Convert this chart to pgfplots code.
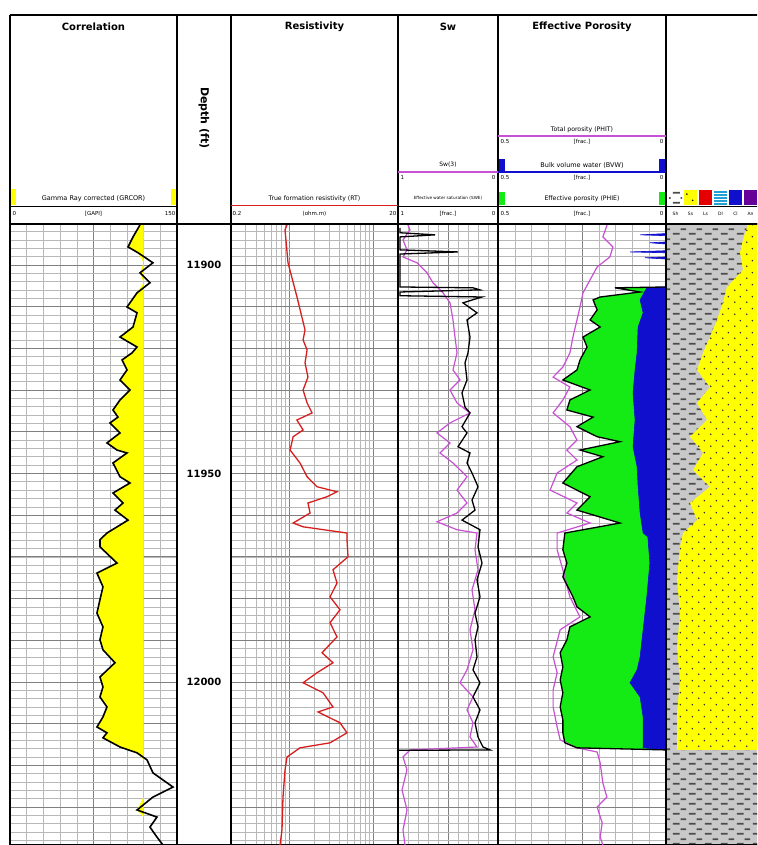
\documentclass[border=0pt]{standalone}
\usepackage{fontspec}
\setmainfont{DejaVu Sans}
\usepackage{pgfplots}
\usepackage{pgfplotstable}
\pgfplotsset{compat=1.18}
\usetikzlibrary{patterns}

\pgfdeclarepatternformonly{shaledash}{\pgfqpoint{0pt}{0pt}}{\pgfqpoint{16pt}{10pt}}{\pgfqpoint{16pt}{10pt}}{%
 \pgfpathrectangle{\pgfqpoint{1pt}{1.5pt}}{\pgfqpoint{7pt}{1.8pt}}%
 \pgfpathrectangle{\pgfqpoint{9pt}{6.5pt}}{\pgfqpoint{6pt}{1.8pt}}%
 \pgfusepath{fill}}
\pgfdeclarepatternformonly{sanddots}{\pgfqpoint{0pt}{0pt}}{\pgfqpoint{12pt}{12pt}}{\pgfqpoint{12pt}{12pt}}{%
 \pgfpathcircle{\pgfqpoint{3pt}{3pt}}{0.9pt}%
 \pgfpathcircle{\pgfqpoint{9pt}{9pt}}{0.9pt}%
 \pgfusepath{fill}}

\definecolor{grfill}{RGB}{255,255,0}
\definecolor{resred}{RGB}{215,30,30}
\definecolor{swmag}{RGB}{200,80,210}
\definecolor{phigreen}{RGB}{20,235,20}
\definecolor{bvwblue}{RGB}{15,15,205}
\definecolor{shalegray}{RGB}{200,200,200}

\pgfplotstableread{
v d
116.8 11890.4
110.5 11893.3
106.0 11895.7
115.0 11897.1
128.4 11899.5
116.8 11901.9
125.7 11904.3
114.1 11906.7
105.1 11910.1
114.1 11911.5
110.5 11914.9
98.8 11917.3
114.1 11919.7
109.6 11921.1
100.6 11922.8
105.1 11925.2
98.8 11927.6
107.8 11930.0
98.8 11932.4
92.5 11934.8
97.0 11936.5
89.8 11937.9
98.8 11940.3
87.1 11942.7
96.1 11944.4
105.1 11945.1
92.5 11947.5
98.8 11950.8
107.8 11952.3
92.5 11954.7
101.5 11957.1
94.3 11958.8
106.0 11961.2
87.1 11964.3
80.8 11965.9
80.8 11967.6
96.1 11971.5
78.1 11973.9
83.5 11977.2
80.8 11980.3
78.1 11983.5
83.5 11986.8
80.8 11989.9
83.5 11992.3
94.3 11995.4
80.8 11998.8
83.5 12001.2
80.8 12003.6
87.1 12006.0
83.5 12008.4
78.1 12010.8
87.1 12012.2
83.5 12013.4
98.8 12015.6
114.1 12017.0
123.1 12018.7
128.4 12021.8
146.4 12025.2
128.4 12027.6
114.1 12030.7
132.0 12032.4
125.7 12034.8
132.0 12037.2
137.4 12039.1
}\grdata

\pgfplotstableread{
v d
0.937 11890.4
0.887 11891.6
0.963 11899.5
1.234 11907.7
1.54 11915.6
1.46 11918.0
1.63 11920.4
1.54 11923.5
1.67 11926.9
1.46 11930.0
1.63 11933.1
1.87 11935.5
1.23 11937.2
1.46 11939.6
1.11 11941.2
1.02 11944.4
1.34 11947.5
1.63 11950.8
2.14 11953.2
3.72 11954.4
2.82 11955.6
1.67 11957.1
1.77 11959.5
1.11 11961.9
1.46 11962.8
4.90 11964.3
4.90 11965.9
5.04 11970.0
3.33 11973.1
3.72 11976.3
3.07 11979.6
4.04 11982.7
3.07 11985.8
3.72 11989.2
2.46 11993.0
3.33 11995.4
2.14 11997.8
1.46 12000.2
2.53 12002.6
3.33 12006.0
2.20 12007.2
4.04 12009.8
4.90 12012.2
3.07 12014.6
1.34 12015.8
0.937 12018.0
0.887 12021.1
0.839 12027.6
0.816 12035.5
0.773 12039.1
}\resdata

\pgfplotstableread{
v d
0.91 11889.9
0.88 11891.6
0.95 11894.0
0.91 11896.4
0.95 11898.1
0.81 11899.5
0.71 11901.9
0.65 11904.3
0.55 11906.7
0.48 11909.1
0.45 11913.2
0.43 11917.3
0.41 11921.1
0.45 11925.2
0.38 11927.6
0.48 11930.0
0.41 11933.1
0.28 11935.5
0.48 11937.9
0.61 11940.3
0.48 11942.7
0.58 11945.1
0.45 11947.5
0.31 11950.8
0.41 11954.0
0.31 11957.1
0.41 11959.5
0.61 11961.6
0.41 11963.5
0.21 11964.3
0.23 11968.3
0.20 11973.1
0.26 11977.9
0.23 11982.7
0.28 11987.5
0.25 11992.3
0.31 11997.1
0.38 12000.2
0.25 12003.6
0.31 12006.7
0.25 12009.8
0.28 12013.2
0.21 12015.6
0.88 12016.3
0.95 12018.0
0.91 12021.1
0.96 12025.9
0.91 12030.7
0.95 12035.5
0.93 12039.1
}\swdata

\pgfplotstableread{
v d
0.98 11891.1
0.98 11892.3
0.63 11892.8
0.98 11893.3
0.98 11896.4
0.40 11896.9
0.98 11897.4
0.98 11905.3
0.25 11905.5
0.18 11906.0
0.98 11906.5
0.98 11907.4
0.16 11907.7
0.35 11909.1
0.21 11911.5
0.31 11913.2
0.28 11917.3
0.30 11921.1
0.33 11923.5
0.31 11927.6
0.36 11930.7
0.33 11934.1
0.28 11935.5
0.36 11938.8
0.31 11940.3
0.40 11943.6
0.28 11945.1
0.31 11947.5
0.26 11949.9
0.20 11953.2
0.26 11956.4
0.23 11958.8
0.36 11961.2
0.18 11963.5
0.20 11967.6
0.16 11971.5
0.21 11975.5
0.18 11979.6
0.23 11983.5
0.20 11986.8
0.23 11989.9
0.21 11994.0
0.25 11997.1
0.18 12000.2
0.25 12003.6
0.18 12006.7
0.23 12009.8
0.20 12013.2
0.15 12015.6
0.08 12016.3
0.99 12016.4
}\swedata

\pgfplotstableread{
v d
0.173 11889.9
0.188 11893.3
0.158 11895.7
0.167 11898.1
0.205 11900.5
0.226 11903.6
0.247 11906.7
0.256 11910.1
0.265 11913.2
0.277 11917.3
0.286 11921.1
0.307 11924.5
0.336 11926.9
0.286 11929.3
0.307 11932.4
0.336 11935.5
0.286 11938.8
0.265 11942.0
0.295 11944.4
0.265 11946.8
0.324 11949.9
0.345 11954.0
0.265 11957.1
0.295 11959.5
0.226 11961.9
0.324 11964.3
0.324 11968.3
0.307 11973.1
0.286 11979.6
0.256 11984.4
0.315 11987.5
0.336 11994.0
0.324 11997.8
0.336 12001.9
0.336 12006.0
0.324 12010.8
0.315 12013.9
0.265 12015.8
0.205 12016.8
0.196 12019.4
0.188 12024.2
0.176 12027.6
0.205 12030.0
0.190 12033.8
0.196 12037.2
0.188 12039.1
}\phitdata

\pgfplotstableread{
v d
0.0 11905.3
0.152 11905.5
0.077 11906.5
0.196 11907.7
0.217 11908.4
0.205 11910.8
0.226 11913.2
0.196 11914.9
0.247 11917.3
0.235 11919.7
0.256 11922.8
0.265 11925.2
0.307 11927.6
0.226 11930.0
0.286 11932.4
0.295 11934.8
0.217 11936.5
0.265 11938.8
0.205 11941.2
0.137 11942.4
0.256 11944.4
0.188 11946.0
0.265 11948.4
0.307 11952.3
0.226 11955.6
0.265 11958.8
0.137 11961.9
0.301 11964.3
0.307 11968.3
0.295 11971.5
0.307 11974.8
0.277 11979.6
0.265 11982.0
0.226 11984.4
0.286 11986.8
0.295 11989.9
0.315 11993.0
0.307 11996.4
0.315 11999.5
0.307 12002.6
0.315 12006.0
0.307 12009.1
0.307 12012.2
0.301 12014.6
0.265 12015.8
0.0 12016.3
}\phiedata

\pgfplotstableread{
v d
0.0 11891.1
0.0 11892.5
0.077 11892.8
0.0 11893.0
0.0 11894.5
0.048 11894.7
0.0 11895.0
0.0 11896.6
0.107 11896.9
0.0 11897.1
0.0 11898.1
0.063 11898.3
0.0 11898.6
0.0 11905.3
0.057 11905.5
0.077 11908.4
0.068 11911.5
0.083 11914.9
0.086 11921.1
0.092 11925.2
0.098 11930.7
0.092 11937.2
0.098 11943.6
0.086 11948.4
0.083 11953.2
0.077 11959.5
0.068 11964.3
0.054 11965.2
0.048 11971.5
0.057 11979.6
0.068 11987.5
0.077 11994.0
0.086 11997.1
0.107 12000.2
0.077 12003.6
0.068 12008.4
0.068 12013.2
0.068 12015.8
0.0 12016.3
}\bvwdata

\pgfplotstableread{
v d
1.0 11890.2
0.485 11890.2
0.485 11890.9
0.461 11894.0
0.443 11897.1
0.461 11901.2
0.365 11905.3
0.341 11909.1
0.305 11913.2
0.263 11917.3
0.222 11921.1
0.186 11925.2
0.263 11929.3
0.186 11933.1
0.246 11937.2
0.144 11941.2
0.222 11945.1
0.162 11949.2
0.263 11953.2
0.144 11957.1
0.186 11961.2
0.102 11964.3
0.084 11967.6
0.066 11975.5
0.084 11983.5
0.066 11991.6
0.084 11999.5
0.066 12007.4
0.066 12014.6
0.066 12016.3
1.0 12016.3
}\lithdata

\pgfplotsset{
 track/.style={scale only axis, height=621pt, y dir=reverse, ymin=11890.2, ymax=12039.1,
   anchor=south west, xticklabels={}, yticklabels={}, major tick length=0pt, minor tick length=0pt,
   ytick={11890,11900,...,12040}, minor ytick={11890,11892,...,12040},
   grid=both, major grid style={black!50, line width=0.7pt}, minor grid style={black!28, line width=0.5pt},
   axis line style={line width=1.6pt}},
}

\begin{document}
\begin{tikzpicture}[x=1pt,y=1pt]
\begin{scope}
\clip (0,0) rectangle (757,845);
\fill[white] (0,0) rectangle (757,845);

% Correlation
\begin{axis}[track, at={(10pt,0pt)}, width=167pt, xmin=0, xmax=150, xtick={75}, minor xtick={15,30,...,135}]
\addplot[fill=grfill, draw=none, restrict x to domain*=0:120] table[x=v,y=d] {\grdata}
  -- (axis cs:120,12039.1) -- (axis cs:120,11890.4) -- cycle;
\addplot[black, line width=1.6pt] table[x=v,y=d] {\grdata};
\end{axis}

% Depth
\begin{axis}[track, at={(177pt,0pt)}, width=54pt, xmin=0, xmax=1, grid=none,
  ytick={11900,11950,12000}, yticklabels={11900,11950,12000}, minor ytick={},
  yticklabel style={anchor=center, xshift=27pt, font=\bfseries\fontsize{10}{11}\selectfont}]
\addplot[draw=none] coordinates {(0.5,11900) (0.5,12000)};
\end{axis}

% Resistivity
\begin{axis}[track, at={(231pt,0pt)}, width=167pt, xmode=log, xmin=0.2, xmax=20,
  xtick={1,10}, minor xtick={0.3,0.4,0.5,0.6,0.7,0.8,0.9,2,3,4,5,6,7,8,9}]
\addplot[resred, line width=1.3pt] table[x=v,y=d] {\resdata};
\end{axis}

% Sw
\begin{axis}[track, at={(398pt,0pt)}, width=100pt, x dir=reverse, xmin=0, xmax=1,
  xtick={0.5}, minor xtick={0.1,0.2,0.3,0.4,0.6,0.7,0.8,0.9}]
\addplot[swmag, line width=1.2pt] table[x=v,y=d] {\swdata};
\addplot[black, line width=1.3pt] table[x=v,y=d] {\swedata};
\end{axis}

% Effective porosity
\begin{axis}[track, at={(498pt,0pt)}, width=168pt, x dir=reverse, xmin=0, xmax=0.5,
  xtick={0.25}, minor xtick={0.05,0.1,0.15,0.2,0.3,0.35,0.4,0.45}]
\addplot[fill=phigreen, draw=none] table[x=v,y=d] {\phiedata};
\addplot[fill=bvwblue, draw=bvwblue, line width=0.6pt] table[x=v,y=d] {\bvwdata};
\addplot[swmag, line width=1.2pt] table[x=v,y=d] {\phitdata};
\addplot[black, line width=1.3pt] table[x=v,y=d] {\phiedata};
\end{axis}

% Lithology
\begin{axis}[track, at={(666pt,0pt)}, width=167pt, xmin=0, xmax=1, grid=none, minor ytick={}, ytick={},
  axis background/.style={fill=shalegray, postaction={pattern=shaledash, pattern color=black!70}}]
\addplot[fill=grfill, draw=none, postaction={pattern=sanddots, pattern color=black!80}] table[x=v,y=d] {\lithdata};
\end{axis}

% ---------- header ----------
\fill[white] (10,622) rectangle (757,830);
\begin{scope}[line width=1.6pt]
\draw (10,830) -- (760,830);
\draw (10,621) -- (760,621);
\foreach \x in {10,177,231,398,498,666} \draw (\x,830) -- (\x,621);
\end{scope}
\draw[black, line width=0.8pt] (10,639) -- (177,639);
\draw[resred, line width=1.0pt] (231,639) -- (398,639);
\draw[black, line width=0.8pt] (398,639) -- (498,639);
\draw[black, line width=0.8pt] (498,639) -- (666,639);
\draw[black, line width=0.8pt] (666,639) -- (760,639);

\begin{scope}[font=\bfseries\fontsize{10}{12}\selectfont]
\node at (93.5,818) {Correlation};
\node at (314.5,818) {Resistivity};
\node at (448,818) {Sw};
\node at (582,818) {Effective Porosity};
\end{scope}
\node[rotate=-90, font=\bfseries\fontsize{11}{13}\selectfont] at (204,727) {Depth (ft)};

\fill[grfill] (11,640) rectangle (16,656);
\fill[grfill] (171,640) rectangle (176,656);
\begin{scope}[every node/.style={inner sep=0.5pt}, font=\fontsize{5.5}{6}\selectfont]
\node[font=\fontsize{6.5}{7}\selectfont] at (93.5,646) {Gamma Ray corrected (GRCOR)};
\node[anchor=west] at (12,631) {0};
\node at (93.5,631) {[GAPI]};
\node[anchor=east] at (176,631) {150};
\node[font=\fontsize{6.2}{7}\selectfont] at (314.5,646) {True formation resistivity (RT)};
\node[anchor=west] at (232,631) {0.2};
\node at (314.5,631) {(ohm.m)};
\node[anchor=east] at (397,631) {20};
\node[font=\fontsize{6}{7}\selectfont] at (448,680) {Sw(3)};
\node[anchor=west] at (400,667) {1};
\node[anchor=east] at (496,667) {0};
\node[font=\fontsize{4.2}{4.5}\selectfont] at (448,647) {Effective water saturation (SWE)};
\node[anchor=west] at (400,631) {1};
\node at (448,631) {[frac.]};
\node[anchor=east] at (496,631) {0};
\node[font=\fontsize{6.2}{7}\selectfont] at (582,715) {Total porosity (PHIT)};
\node[anchor=west] at (500,703) {0.5};
\node at (582,703) {[frac.]};
\node[anchor=east] at (664,703) {0};
\node[font=\fontsize{6.5}{7}\selectfont] at (582,680) {Bulk volume water (BVW)};
\node[anchor=west] at (500,667) {0.5};
\node at (582,667) {[frac.]};
\node[anchor=east] at (664,667) {0};
\node[font=\fontsize{6.2}{7}\selectfont] at (582,646) {Effective porosity (PHIE)};
\node[anchor=west] at (500,631) {0.5};
\node at (582,631) {[frac.]};
\node[anchor=east] at (664,631) {0};
\end{scope}
\draw[swmag, line width=1.2pt] (398,673) -- (498,673);
\draw[swmag, line width=1.2pt] (498,709) -- (666,709);
\draw[bvwblue, line width=1.2pt] (498,673) -- (666,673);
\fill[bvwblue] (499,672) rectangle (505,686);
\fill[bvwblue] (659,672) rectangle (665,686);
\fill[phigreen] (499,640) rectangle (505,653);
\fill[phigreen] (659,640) rectangle (665,653);

\fill[white] (669,640) rectangle (682,655);
\fill[pattern=shaledash, pattern color=black!70] (669,640) rectangle (682,655);
\fill[grfill] (684,640) rectangle (697,655);
\fill[pattern=sanddots, pattern color=black] (684,640) rectangle (697,655);
\fill[red!90!black] (699,640) rectangle (712,655);
\fill[cyan!70!teal] (714,640) rectangle (727,655);
\fill[pattern=horizontal lines, pattern color=white] (714,640) rectangle (727,655);
\fill[bvwblue] (729,640) rectangle (742,655);
\fill[violet!80!blue] (744,640) rectangle (757,655);
\begin{scope}[every node/.style={inner sep=0.5pt}, font=\fontsize{4.5}{5}\selectfont]
\node at (675.5,631) {Sh};
\node at (690.5,631) {Ss};
\node at (705.5,631) {Ls};
\node at (720.5,631) {Dl};
\node at (735.5,631) {Cl};
\node at (750.5,631) {An};
\end{scope}
\end{scope}
\pgfresetboundingbox
\path[use as bounding box] (0,0) rectangle (757,845);
\end{tikzpicture}
\end{document}
